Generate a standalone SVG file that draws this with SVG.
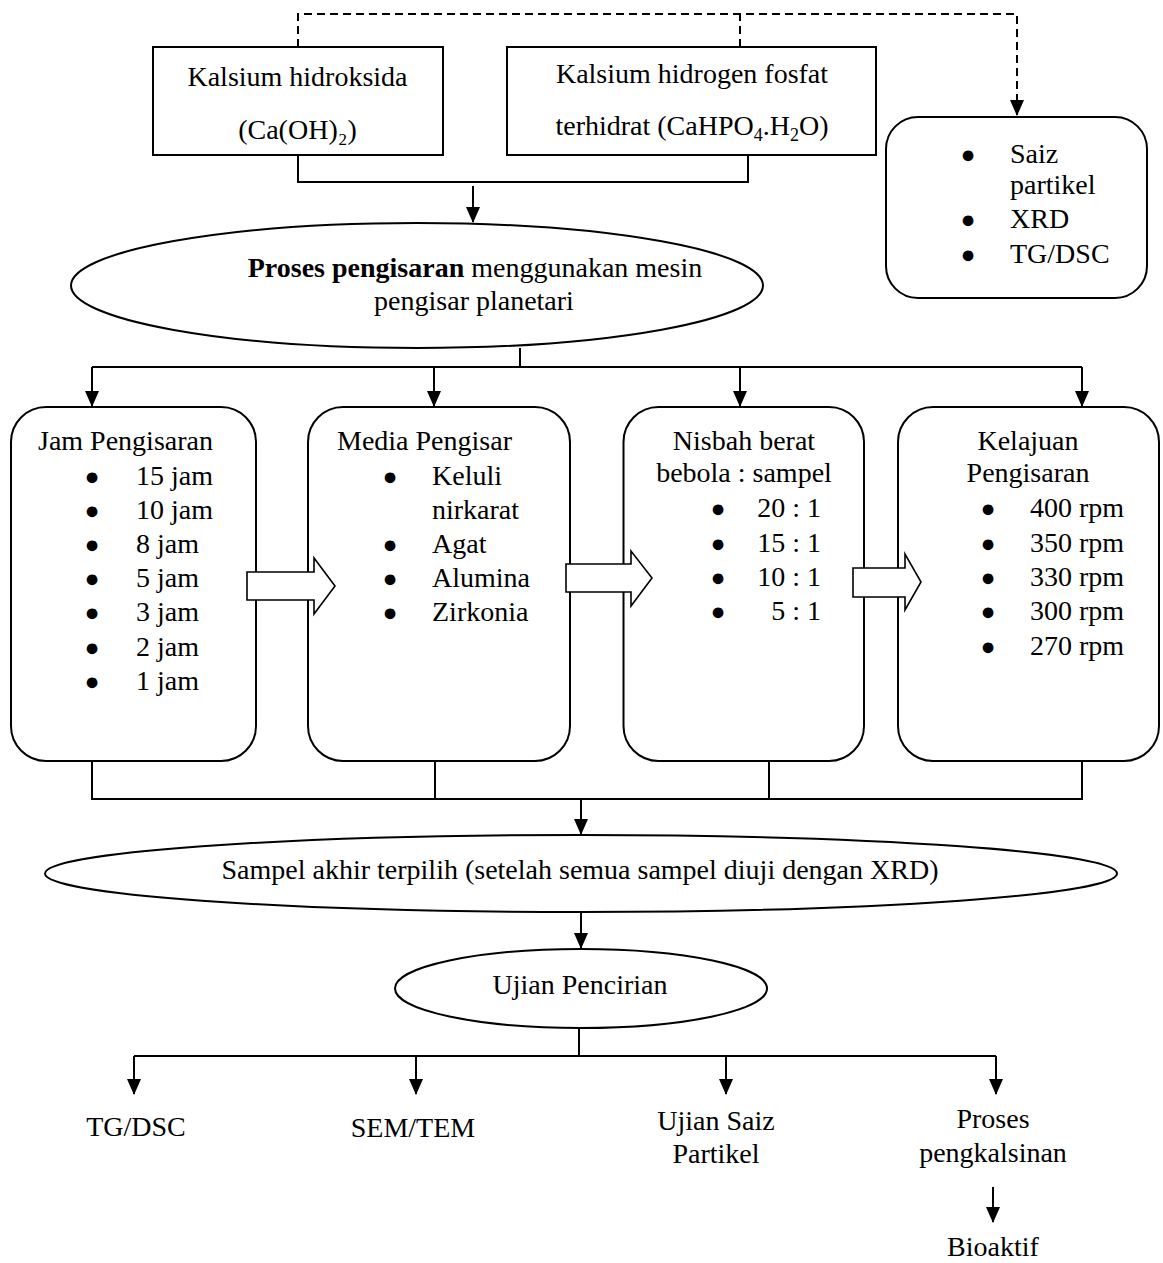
<svg xmlns="http://www.w3.org/2000/svg" width="1163" height="1263" viewBox="0 0 1163 1263">
<style>
text{font-family:"Liberation Serif","Times New Roman",serif;font-size:28px;fill:#000}
.c{text-anchor:middle}
.r{text-anchor:end}
.b{font-size:25px;text-anchor:middle}
.box{fill:#fff;stroke:#000;stroke-width:2}
.ln{fill:none;stroke:#000;stroke-width:2}
.dash{fill:none;stroke:#000;stroke-width:2;stroke-dasharray:8 5}
.blk{fill:#fff;stroke:#000;stroke-width:1.6}
</style>
<defs>
<marker id="a" markerUnits="userSpaceOnUse" markerWidth="16" markerHeight="14" refX="15" refY="7" orient="auto" viewBox="0 0 16 14">
<path d="M0,0 L16,7 L0,14 Z" fill="#000"/>
</marker>
</defs>

<g id="n-caoh">
<rect class="box" x="153" y="47" width="290" height="108"/>
<text class="c" x="297.5" y="86" font-size="30">Kalsium hidroksida</text>
<text class="c" x="297.5" y="139" font-size="30">(Ca(OH)₂)</text>
</g>

<g id="n-cahpo4">
<rect class="box" x="507" y="47" width="369" height="108"/>
<text class="c" x="692" y="83">Kalsium hidrogen fosfat</text>
<text class="c" x="692" y="135">terhidrat (CaHPO<tspan font-size="18" dy="6">4</tspan><tspan dy="-6">.H</tspan><tspan font-size="18" dy="6">2</tspan><tspan dy="-6">O)</tspan></text>
</g>

<g id="n-char1">
<rect class="box" x="886" y="117" width="261" height="181" rx="32"/>
<text class="b" x="968" y="163">●</text><text x="1010" y="163">Saiz</text>
<text x="1010" y="194">partikel</text>
<text class="b" x="968" y="228">●</text><text x="1010" y="228">XRD</text>
<text class="b" x="968" y="263">●</text><text x="1010" y="263">TG/DSC</text>
</g>

<g id="n-proses">
<ellipse class="box" cx="417" cy="285.5" rx="346" ry="62.5"/>
<text class="c" x="475" y="277"><tspan font-weight="bold">Proses pengisaran</tspan> menggunakan mesin</text>
<text class="c" x="474" y="310">pengisar planetari</text>
</g>

<g id="n-jam">
<rect class="box" x="11" y="407" width="245" height="354" rx="35"/>
<text x="38" y="450">Jam Pengisaran</text>
<text class="b" x="92" y="485">●</text><text x="136" y="485">15 jam</text>
<text class="b" x="92" y="519">●</text><text x="136" y="519">10 jam</text>
<text class="b" x="92" y="553">●</text><text x="136" y="553">8 jam</text>
<text class="b" x="92" y="587">●</text><text x="136" y="587">5 jam</text>
<text class="b" x="92" y="621">●</text><text x="136" y="621">3 jam</text>
<text class="b" x="92" y="656">●</text><text x="136" y="656">2 jam</text>
<text class="b" x="92" y="690">●</text><text x="136" y="690">1 jam</text>
</g>

<g id="n-media">
<rect class="box" x="308" y="407" width="262" height="354" rx="35"/>
<text x="337" y="450">Media Pengisar</text>
<text class="b" x="390" y="485">●</text><text x="432" y="485">Keluli</text>
<text x="432" y="519">nirkarat</text>
<text class="b" x="390" y="553">●</text><text x="432" y="553">Agat</text>
<text class="b" x="390" y="587">●</text><text x="432" y="587">Alumina</text>
<text class="b" x="390" y="621">●</text><text x="432" y="621">Zirkonia</text>
</g>

<g id="n-nisbah">
<rect class="box" x="623.5" y="407" width="240.5" height="354" rx="35"/>
<text class="c" x="744" y="450">Nisbah berat</text>
<text class="c" x="744" y="482">bebola : sampel</text>
<text class="b" x="718" y="517">●</text><text class="r" x="821" y="517">20 : 1</text>
<text class="b" x="718" y="552">●</text><text class="r" x="821" y="552">15 : 1</text>
<text class="b" x="718" y="586">●</text><text class="r" x="821" y="586">10 : 1</text>
<text class="b" x="718" y="620">●</text><text class="r" x="821" y="620">5 : 1</text>
</g>

<g id="n-kelajuan">
<rect class="box" x="898" y="407" width="261" height="354" rx="35"/>
<text class="c" x="1028" y="450">Kelajuan</text>
<text class="c" x="1028" y="482">Pengisaran</text>
<text class="b" x="988" y="517">●</text><text x="1030" y="517">400 rpm</text>
<text class="b" x="988" y="552">●</text><text x="1030" y="552">350 rpm</text>
<text class="b" x="988" y="586">●</text><text x="1030" y="586">330 rpm</text>
<text class="b" x="988" y="620">●</text><text x="1030" y="620">300 rpm</text>
<text class="b" x="988" y="655">●</text><text x="1030" y="655">270 rpm</text>
</g>

<g id="n-sampel">
<ellipse class="box" cx="581" cy="873.5" rx="536" ry="38.5"/>
<text class="c" x="580" y="879">Sampel akhir terpilih (setelah semua sampel diuji dengan XRD)</text>
</g>

<g id="n-ujian">
<ellipse class="box" cx="581" cy="988.5" rx="186" ry="39.5"/>
<text class="c" x="580" y="994">Ujian Pencirian</text>
</g>

<g id="n-tgdsc"><text class="c" x="136" y="1136">TG/DSC</text></g>
<g id="n-semtem"><text class="c" x="413" y="1137" font-size="33">SEM/TEM</text></g>
<g id="n-saiz"><text class="c" x="716" y="1130">Ujian Saiz</text><text class="c" x="716" y="1163">Partikel</text></g>
<g id="n-kalsin"><text class="c" x="993" y="1128">Proses</text><text class="c" x="993" y="1162">pengkalsinan</text></g>
<g id="n-bioaktif"><text class="c" x="993" y="1256">Bioaktif</text></g>

<g id="connectors">
<path class="dash" d="M298,47 V14 H1017 V115" marker-end="url(#a)"/>
<path class="dash" d="M740,47 V14"/>
<path class="ln" d="M298,155 V182 H748 V155"/>
<path class="ln" d="M473,186 V222" marker-end="url(#a)"/>
<path class="ln" d="M520,348 V367"/>
<path class="ln" d="M92,367 H1082"/>
<path class="ln" d="M92,367 V406" marker-end="url(#a)"/>
<path class="ln" d="M434,367 V406" marker-end="url(#a)"/>
<path class="ln" d="M740,367 V406" marker-end="url(#a)"/>
<path class="ln" d="M1082,367 V406" marker-end="url(#a)"/>
<path class="ln" d="M92,761 V799 H1082 V761"/>
<path class="ln" d="M435,761 V799"/>
<path class="ln" d="M769,761 V799"/>
<path class="ln" d="M581,799 V834" marker-end="url(#a)"/>
<path class="ln" d="M581,912 V948" marker-end="url(#a)"/>
<path class="ln" d="M579,1028 V1056"/>
<path class="ln" d="M134,1056 H996"/>
<path class="ln" d="M134,1056 V1094" marker-end="url(#a)"/>
<path class="ln" d="M416,1056 V1094" marker-end="url(#a)"/>
<path class="ln" d="M726,1056 V1094" marker-end="url(#a)"/>
<path class="ln" d="M996,1056 V1094" marker-end="url(#a)"/>
<path class="ln" d="M993,1187 V1222" marker-end="url(#a)"/>
<polygon class="blk" points="247,572 314,572 314,558 335,586 314,614 314,600 247,600"/>
<polygon class="blk" points="566,564 631,564 631,551 652,578 631,606 631,592 566,592"/>
<polygon class="blk" points="853,568 905,568 905,554 921,582 905,610 905,597 853,597"/>
</g>
</svg>
